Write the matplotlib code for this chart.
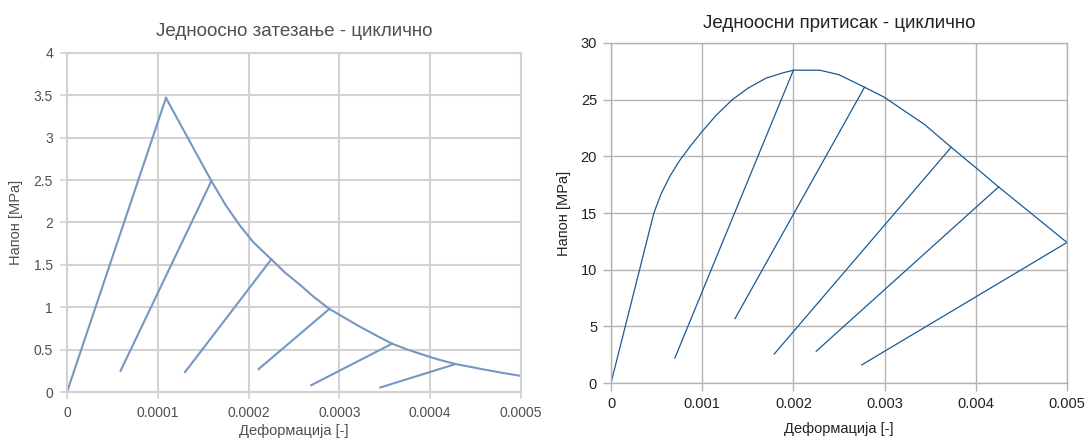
import matplotlib
matplotlib.use("Agg")
import matplotlib.pyplot as plt

plt.rcParams['font.family'] = ['Liberation Sans', 'DejaVu Sans']

# ---------------- Data: tension (left) ----------------
t_load_eps = [0.0, 0.000109]
t_load_sig = [0.0, 3.47]
t_env_eps = [0.000109, 0.000159, 0.000175, 0.00019, 0.000205, 0.000225, 0.00024, 0.000256,
             0.000272, 0.000289, 0.000305, 0.000321, 0.00034, 0.000358, 0.000375, 0.000395,
             0.00041, 0.000428, 0.000457, 0.00048, 0.0005]
t_env_sig = [3.47, 2.49, 2.20, 1.97, 1.77, 1.565, 1.41, 1.27,
             1.12, 0.98, 0.88, 0.78, 0.67, 0.57, 0.50, 0.43,
             0.38, 0.33, 0.27, 0.225, 0.19]
t_unl_top_eps = [0.000159, 0.000225, 0.000289, 0.000358, 0.000428]
t_unl_top_sig = [2.49, 1.565, 0.98, 0.57, 0.33]
t_unl_bot_eps = [0.000059, 0.00013, 0.000211, 0.000269, 0.000345]
t_unl_bot_sig = [0.25, 0.235, 0.27, 0.08, 0.053]
t_xticks = [0, 0.0001, 0.0002, 0.0003, 0.0004, 0.0005]
t_xlabels = ['0', '0.0001', '0.0002', '0.0003', '0.0004', '0.0005']
t_yticks = [0, 0.5, 1, 1.5, 2, 2.5, 3, 3.5, 4]
t_ylabels = ['0', '0.5', '1', '1.5', '2', '2.5', '3', '3.5', '4']

# ---------------- Data: compression (right) ----------------
c_env_eps = [0.0, 0.00047, 0.00055, 0.00065, 0.00075, 0.00087, 0.001, 0.00115, 0.00133,
             0.0015, 0.0017, 0.0019, 0.002, 0.00229, 0.0025, 0.00278, 0.003, 0.0032,
             0.00344, 0.00373, 0.004, 0.00425, 0.005]
c_env_sig = [0.0, 15.0, 16.7, 18.3, 19.6, 20.9, 22.2, 23.6, 25.0,
             26.0, 26.9, 27.4, 27.6, 27.6, 27.2, 26.1, 25.2, 24.1,
             22.8, 20.8, 19.0, 17.3, 12.4]
c_unl_top_eps = [0.002, 0.00278, 0.00373, 0.00425, 0.005]
c_unl_top_sig = [27.6, 26.1, 20.8, 17.3, 12.4]
c_unl_bot_eps = [0.0007, 0.00136, 0.00179, 0.00225, 0.00275]
c_unl_bot_sig = [2.2, 5.68, 2.56, 2.8, 1.6]
c_xticks = [0, 0.001, 0.002, 0.003, 0.004, 0.005]
c_xlabels = ['0', '0.001', '0.002', '0.003', '0.004', '0.005']
c_yticks = [0, 5, 10, 15, 20, 25, 30]
c_ylabels = ['0', '5', '10', '15', '20', '25', '30']

W, H = 1088, 440
fig = plt.figure(figsize=(W / 100, H / 100), dpi=100)

def box(x0, y0, x1, y1):
    return [x0 / W, 1 - y1 / H, (x1 - x0) / W, (y1 - y0) / H]

# ---------------- Left chart ----------------
axL = fig.add_axes(box(67, 53, 521, 392))
lc = '#7597c2'
gl = '#d2d2d2'
tc = '#4f4f4f'
axL.plot(t_load_eps, t_load_sig, color=lc, lw=1.5)
axL.plot(t_env_eps, t_env_sig, color=lc, lw=1.5)
for i in range(len(t_unl_top_eps)):
    axL.plot([t_unl_bot_eps[i], t_unl_top_eps[i]], [t_unl_bot_sig[i], t_unl_top_sig[i]],
             color=lc, lw=1.5)
axL.set_xlim(0, 0.0005)
axL.set_ylim(0, 4)
axL.set_xticks(t_xticks)
axL.set_xticklabels(t_xlabels)
axL.set_yticks(t_yticks)
axL.set_yticklabels(t_ylabels)
axL.grid(True, color=gl, lw=1.5)
axL.set_axisbelow(True)
for s in axL.spines.values():
    s.set_color(gl)
    s.set_linewidth(1.5)
axL.tick_params(axis='both', colors=gl, labelcolor=tc, labelsize=10, length=5, width=1.2, pad=5)
axL.set_title('Једноосно затезање - циклично', color=tc, fontsize=13.5, pad=12)
axL.set_xlabel('Деформација [-]', color=tc, fontsize=10.5, labelpad=3)
axL.set_ylabel('Напон [MPa]', color=tc, fontsize=10.5, labelpad=8)

# ---------------- Right chart ----------------
axR = fig.add_axes(box(611, 43, 1067, 383))
rc = '#1a5a96'
gr = '#b3b3b3'
tr = '#222222'
axR.plot(c_env_eps, c_env_sig, color=rc, lw=0.9)
for i in range(len(c_unl_top_eps)):
    axR.plot([c_unl_bot_eps[i], c_unl_top_eps[i]], [c_unl_bot_sig[i], c_unl_top_sig[i]],
             color=rc, lw=0.9)
axR.set_xlim(0, 0.005)
axR.set_ylim(0, 30)
axR.set_xticks(c_xticks)
axR.set_xticklabels(c_xlabels)
axR.set_yticks(c_yticks)
axR.set_yticklabels(c_ylabels)
axR.grid(True, color=gr, lw=1.0)
axR.set_axisbelow(True)
for s in axR.spines.values():
    s.set_color(gr)
    s.set_linewidth(1.0)
axR.tick_params(axis='both', colors=gr, labelcolor=tr, labelsize=10.5, length=6, width=1.0, pad=4)
axR.set_title('Једноосни притисак - циклично', color=tr, fontsize=13.5, pad=11)
axR.set_xlabel('Деформација [-]', color=tr, fontsize=10.5, labelpad=8)
axR.set_ylabel('Напон [MPa]', color=tr, fontsize=10.5, labelpad=7)

fig.savefig('out.png', dpi=100)
